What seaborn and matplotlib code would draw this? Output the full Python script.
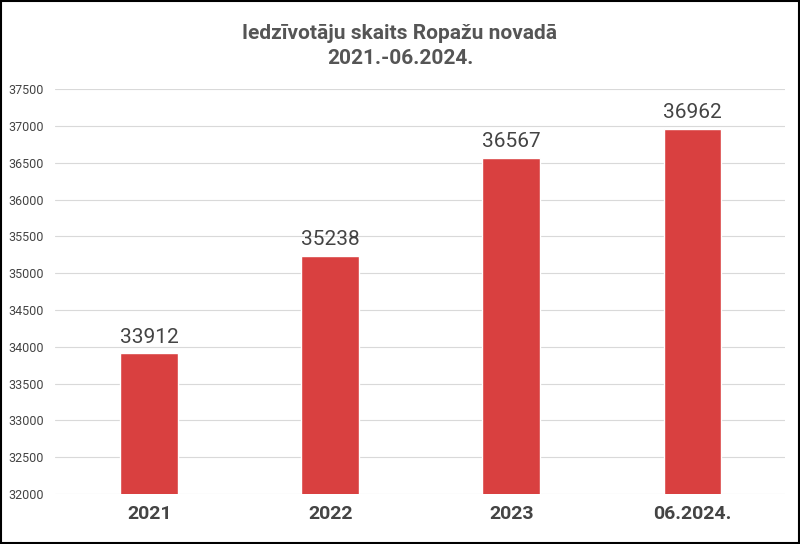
import matplotlib
matplotlib.use("Agg")
from matplotlib import pyplot as plt
import seaborn as sns
import pandas as pd

categories = ["2021", "2022", "2023", "06.2024."]
population = [33912, 35238, 36567, 36962]
y_ticks = list(range(32000, 37501, 500))

df = pd.DataFrame({"year": categories, "pop": population})

sns.set_theme(style="white", font="Roboto")
fig = plt.figure(figsize=(8, 5.44), dpi=100)
ax = fig.add_axes([0.069, 0.092, 0.912, 0.744])

sns.barplot(data=df, x="year", y="pop", color="#D94040", saturation=1, width=0.32, ax=ax, zorder=3)

ax.set_ylim(32000, 37500)
ax.set_xlim(-0.52, 3.51)
ax.set_yticks(y_ticks)
ax.set_yticklabels([str(t) for t in y_ticks], fontsize=9, color="#444444")
ax.tick_params(axis="x", labelsize=14, colors="#444444", length=0, pad=8)
ax.tick_params(axis="y", length=0, pad=8)
for lbl in ax.get_xticklabels():
    lbl.set_fontweight("bold")
ax.grid(axis="y", color="#d9d9d9", linewidth=0.8, zorder=0)
for s in ax.spines.values():
    s.set_visible(False)
ax.set_xlabel("")
ax.set_ylabel("")

for i, v in enumerate(population):
    ax.text(i, v + 90, str(v), ha="center", va="bottom", fontsize=15, color="#444444")

fig.text(0.5, 0.955, "Iedzīvotāju skaits Ropažu novadā\n2021.-06.2024.", ha="center", va="top",
         fontsize=15, fontweight="bold", color="#555555", linespacing=1.4)

fig.patches.append(plt.Rectangle((0.001, 0.001), 0.998, 0.997, transform=fig.transFigure,
                                 fill=False, edgecolor="black", linewidth=1.5))
fig.savefig("out.png", dpi=100)
